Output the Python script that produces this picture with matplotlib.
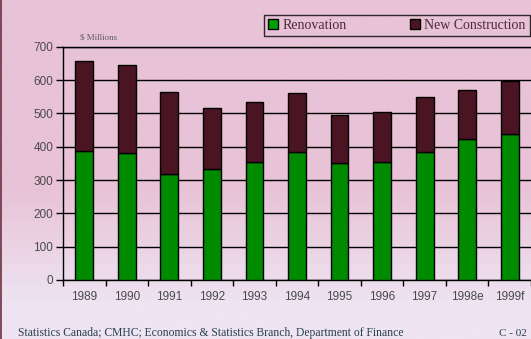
import numpy as np
import matplotlib.pyplot as plt
from matplotlib.lines import Line2D
from matplotlib.patches import Patch

years = ['1989', '1990', '1991', '1992', '1993', '1994', '1995', '1996', '1997', '1998e', '1999f']
renovation = [388, 380, 317, 332, 355, 385, 350, 355, 385, 422, 438]
total = [657, 645, 565, 515, 535, 562, 495, 505, 550, 570, 598]
new_construction = [t - r for t, r in zip(total, renovation)]

green = '#008a00'
maroon = '#4a1422'
text_gray = '#4a4a4a'

fig = plt.figure(figsize=(5.31, 3.39), dpi=100)

# pink background fading lighter toward the bottom
bg = fig.add_axes([0, 0, 1, 1], zorder=-10)
grad = np.linspace(0, 1, 256)
top_c = np.array([232, 194, 214]) / 255
bot_c = np.array([238, 228, 242]) / 255
w = np.clip((grad - 0.55) / 0.35, 0, 1)[:, None]
img = top_c * (1 - w) + bot_c * w
bg.imshow(img[:, None, :], aspect='auto', extent=[0, 1, 0, 1])
bg.axis('off')
bg.add_line(Line2D([0.001, 0.001], [0, 1], color='#6a3040', lw=1.2, transform=bg.transAxes))

ax = fig.add_axes([63 / 531, 59 / 339, 468 / 531, 233.3 / 339])
ax.patch.set_alpha(0)
x = np.arange(len(years))
ax.bar(x, renovation, width=0.42, color=green, edgecolor='black', linewidth=1, zorder=3)
ax.bar(x, new_construction, width=0.42, bottom=renovation, color=maroon,
       edgecolor='black', linewidth=1, zorder=3)

ax.set_xlim(-0.5, len(years) - 0.5)
ax.set_ylim(0, 700)
ax.set_yticks(range(0, 701, 100))
ax.yaxis.grid(True, color='black', linewidth=1, zorder=1)
for s in ax.spines.values():
    s.set_color('black')
    s.set_linewidth(1)
ax.spines['right'].set_visible(False)

ax.set_xticks(x)
ax.set_xticklabels(years)
ax.set_xticks(np.arange(-0.5, len(years), 1), minor=True)
ax.tick_params(axis='x', which='major', length=0, pad=8, labelsize=8.5, labelcolor=text_gray)
ax.tick_params(axis='x', which='minor', length=4, width=1, direction='out', color='black')
ax.tick_params(axis='y', length=5, width=1, color='black', labelsize=8.5, labelcolor=text_gray, pad=2)
for lab in ax.get_xticklabels() + ax.get_yticklabels():
    lab.set_fontfamily('Liberation Sans')

fig.text(80 / 531, 1 - 37 / 339, '$ Millions', fontsize=6.5, family='Liberation Serif',
         color='#606060', va='center')

handles = [Patch(facecolor='#00a000', edgecolor='black', label='Renovation'),
           Patch(facecolor=maroon, edgecolor='black', label='New Construction')]
leg = fig.legend(handles=handles, loc='upper left', bbox_to_anchor=(264 / 531, 1 - 15 / 339),
                 ncol=2, frameon=True, fancybox=False, edgecolor='black', facecolor='none',
                 prop={'family': 'Liberation Serif', 'size': 10}, handlelength=0.7,
                 handleheight=0.7, handletextpad=0.3, columnspacing=4.6,
                 borderpad=0.3, borderaxespad=0)
leg.get_frame().set_linewidth(1)
for t in leg.get_texts():
    t.set_color('#4a2a35')

fig.text(18 / 531, 1 - 333 / 339, 'Statistics Canada; CMHC; Economics & Statistics Branch, Department of Finance',
         fontsize=8.4, family='Liberation Serif', color='#2a4050', va='center')
fig.text(499 / 531, 1 - 333 / 339, 'C - 02', fontsize=8, family='Liberation Serif',
         color='#2a4050', va='center')

fig.savefig('out.png', dpi=100)
